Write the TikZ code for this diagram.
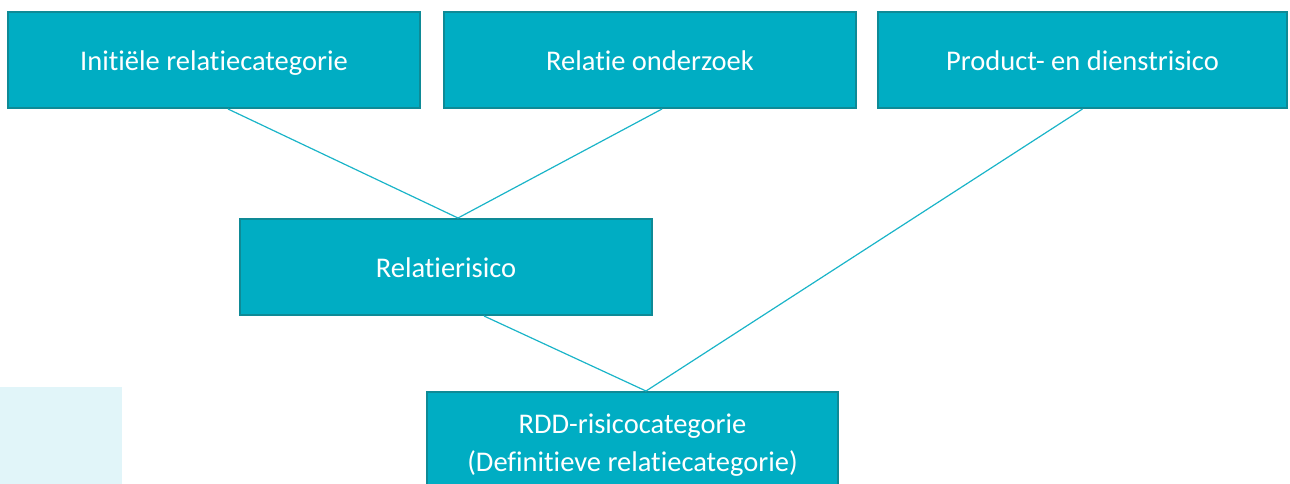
\documentclass[tikz,border=0pt]{standalone}
\usepackage{fontspec}
\setmainfont{Carlito}[Ligatures={NoCommon}]
\definecolor{boxfill}{HTML}{00ADC3}
\definecolor{boxline}{HTML}{0E8A96}
\definecolor{conn}{HTML}{1AB4C8}
\definecolor{pale}{HTML}{E1F5F9}
\begin{document}
\begin{tikzpicture}[x=1pt,y=-1pt,
  boxtext/.style={text=white,font=\fontsize{28.5}{38}\selectfont,align=center,inner sep=0pt},
  box/.style={boxtext,draw=boxline,line width=2pt,fill=boxfill,text height=21pt,text depth=0pt},
  conline/.style={draw=conn,line width=1.2pt}]
\useasboundingbox (0,0) rectangle (1290,484);
\fill[pale] (0,387) rectangle (122,484);
\node[box,minimum width=412pt,minimum height=96pt] (a) at (214,60) {Initiële relatiecategorie};
\node[box,minimum width=412pt,minimum height=96pt] (b) at (650,60) {Relatie onderzoek};
\node[box,minimum width=409pt,minimum height=96pt] (c) at (1082.5,60) {Product- en dienstrisico};
\node[box,minimum width=412pt,minimum height=96pt] (d) at (446,267) {Relatierisico};
\node[draw=boxline,line width=2pt,fill=boxfill,minimum width=411pt,minimum height=108pt,inner sep=0pt] (e) at (632.5,446) {};
\node[boxtext] (et) at (632.5,445) {RDD-risicocategorie\\(Definitieve relatiecategorie)};
\coordinate (a1) at ([xshift=14pt]a.south);
\coordinate (b1) at ([xshift=12pt]b.south);
\coordinate (c1) at (c.south);
\coordinate (d1) at ([xshift=12pt]d.north);
\coordinate (d2) at ([xshift=38pt]d.south);
\coordinate (e1) at ([xshift=13.5pt]e.north);
\draw[conline] (a1) -- (d1);
\draw[conline] (b1) -- (d1);
\draw[conline] (c1) -- (e1);
\draw[conline] (d2) -- (e1);
\end{tikzpicture}
\end{document}
